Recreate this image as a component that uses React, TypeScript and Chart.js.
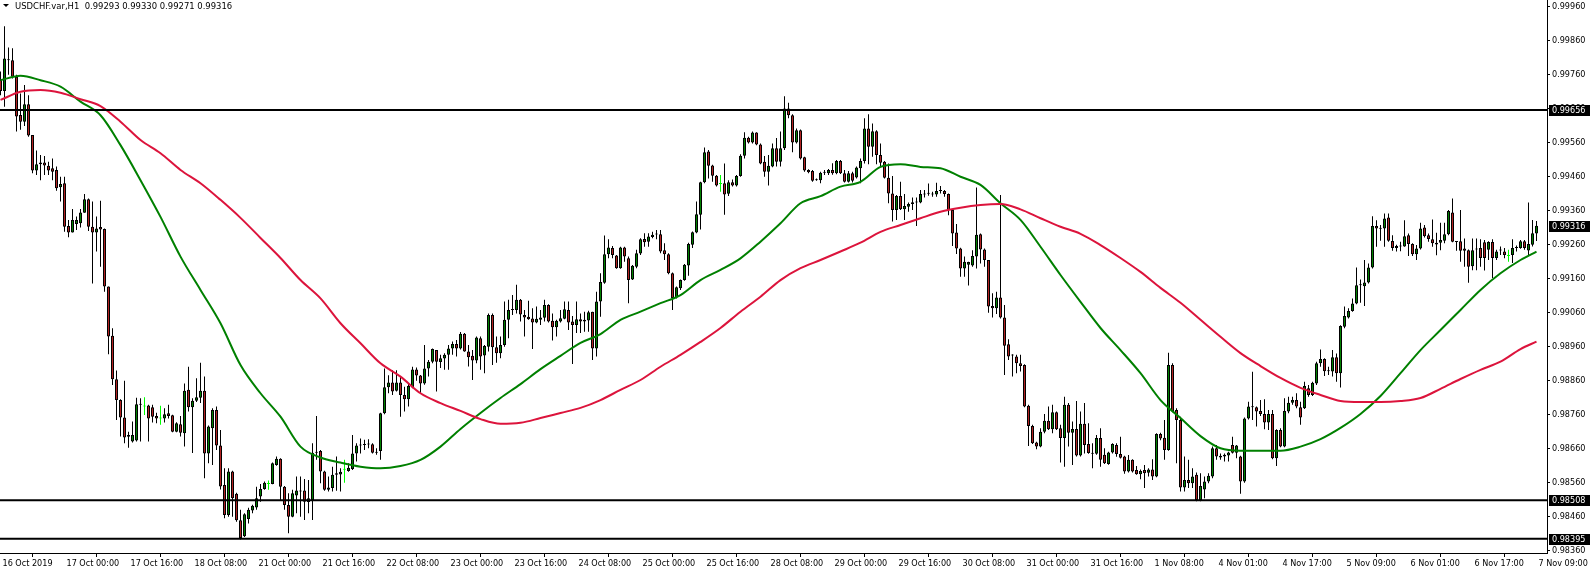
import React, { useEffect, useRef } from 'react';
import { Chart, registerables } from 'chart.js';

Chart.register(...registerables);

// ---------------- data ----------------
const SYMBOL = 'USDCHF.var,H1';
const PRICE_SCALE = 100000; // prices are stored in points (0.00001)
const BARS_PER_LABEL = 16;

const timeLabels = [
  '16 Oct 2019', '17 Oct 00:00', '17 Oct 16:00', '18 Oct 08:00', '21 Oct 00:00',
  '21 Oct 16:00', '22 Oct 08:00', '23 Oct 00:00', '23 Oct 16:00', '24 Oct 08:00',
  '25 Oct 00:00', '25 Oct 16:00', '28 Oct 08:00', '29 Oct 00:00', '29 Oct 16:00',
  '30 Oct 08:00', '31 Oct 00:00', '31 Oct 16:00', '1 Nov 08:00', '4 Nov 01:00',
  '4 Nov 17:00', '5 Nov 09:00', '6 Nov 01:00', '6 Nov 17:00', '7 Nov 09:00',
];

const priceTicks = [
  98360, 98460, 98560, 98660, 98760, 98860, 98960, 99060, 99160,
  99260, 99360, 99460, 99560, 99660, 99760, 99860, 99960,
];

const levelPrices = [99656, 98508, 98395];

const openPrices = [
  99745, 99712, 99806, 99803, 99754, 99642, 99622, 99673, 99583, 99478,
  99497, 99502, 99492, 99485, 99480, 99429, 99441, 99315, 99296, 99321,
  99323, 99354, 99394, 99313, 99296, 99312, 99306, 99137, 98992, 98864,
  98803, 98752, 98700, 98681, 98684, 98791, 98784, 98787, 98782, 98756,
  98749, 98749, 98764, 98758, 98710, 98732, 98705, 98833, 98782, 98801,
  98810, 98830, 98646, 98720, 98774, 98669, 98553, 98465, 98593, 98527,
  98449, 98402, 98453, 98478, 98487, 98519, 98541, 98556, 98556, 98612,
  98630, 98548, 98494, 98460, 98522, 98537, 98537, 98503, 98509, 98648,
  98653, 98593, 98539, 98544, 98583, 98584, 98598, 98594, 98600, 98646,
  98669, 98671, 98674, 98673, 98648, 98653, 98764, 98841, 98855, 98830,
  98855, 98818, 98805, 98840, 98893, 98875, 98852, 98896, 98916, 98950,
  98915, 98925, 98936, 98955, 98968, 98955, 98998, 98946, 98933, 98919,
  98985, 98934, 98960, 99053, 98958, 98941, 98965, 99039, 99068, 99068,
  99098, 99053, 99048, 99043, 99031, 99039, 99045, 99083, 99036, 99017,
  99034, 99042, 99068, 99034, 99024, 99041, 99034, 99037, 99063, 98955,
  99093, 99148, 99232, 99250, 99228, 99191, 99252, 99220, 99158, 99195,
  99234, 99277, 99269, 99283, 99290, 99291, 99244, 99232, 99176, 99105,
  99132, 99156, 99199, 99260, 99296, 99348, 99444, 99534, 99493, 99463,
  99439, 99441, 99410, 99444, 99434, 99462, 99522, 99575, 99561, 99590,
  99555, 99504, 99475, 99490, 99544, 99504, 99544, 99661, 99641, 99561,
  99597, 99517, 99480, 99477, 99450, 99450, 99472, 99470, 99480, 99470,
  99506, 99470, 99445, 99470, 99458, 99485, 99506, 99602, 99548, 99594,
  99524, 99504, 99457, 99411, 99362, 99403, 99364, 99372, 99380, 99385,
  99384, 99408, 99411, 99410, 99408, 99418, 99418, 99409, 99362, 99296,
  99249, 99190, 99201, 99199, 99225, 99291, 99246, 99215, 99080, 99073,
  99105, 99046, 98967, 98935, 98931, 98911, 98906, 98786, 98727, 98678,
  98666, 98710, 98742, 98717, 98767, 98720, 98691, 98789, 98707, 98718,
  98640, 98733, 98674, 98648, 98645, 98691, 98642, 98615, 98649, 98671,
  98644, 98637, 98593, 98627, 98597, 98585, 98597, 98589, 98599, 98578,
  98703, 98692, 98656, 98906, 98774, 98744, 98546, 98568, 98558, 98583,
  98509, 98540, 98563, 98578, 98661, 98639, 98637, 98640, 98671, 98648,
  98637, 98563, 98749, 98782, 98782, 98771, 98762, 98737, 98762, 98632,
  98715, 98666, 98769, 98795, 98803, 98782, 98779, 98838, 98818, 98852,
  98911, 98924, 98888, 98887, 98929, 98882, 99019, 99046, 99065, 99087,
  99141, 99138, 99149, 99193, 99315, 99308, 99308, 99340, 99271, 99250,
  99256, 99255, 99288, 99262, 99232, 99249, 99311, 99288, 99276, 99266,
  99266, 99272, 99291, 99355, 99269, 99270, 99249, 99244, 99197, 99246,
  99250, 99267, 99245, 99268, 99221, 99243, 99240, 99227, 99230, 99250,
  99250, 99270, 99243, 99260, 99293,
];

const highPrices = [
  99770, 99903, 99840, 99838, 99760, 99705, 99730, 99700, 99583, 99537,
  99524, 99521, 99504, 99514, 99490, 99460, 99460, 99333, 99365, 99343,
  99365, 99409, 99396, 99387, 99343, 99389, 99308, 99137, 99014, 98890,
  98805, 98860, 98710, 98740, 98810, 98808, 98811, 98789, 98789, 98766,
  98786, 98779, 98789, 98760, 98738, 98756, 98852, 98901, 98808, 98867,
  98913, 98872, 98728, 98779, 98784, 98715, 98602, 98602, 98595, 98530,
  98480, 98470, 98486, 98495, 98548, 98556, 98563, 98566, 98619, 98637,
  98632, 98550, 98529, 98539, 98578, 98578, 98571, 98568, 98676, 98756,
  98656, 98595, 98578, 98607, 98637, 98602, 98627, 98617, 98700, 98676,
  98690, 98686, 98688, 98676, 98661, 98766, 98896, 98876, 98891, 98891,
  98872, 98842, 98852, 98901, 98899, 98877, 98965, 98921, 98955, 98950,
  98936, 98941, 98965, 98975, 98980, 99003, 99000, 98965, 98950, 98990,
  98990, 98965, 99058, 99058, 98990, 98990, 99093, 99098, 99112, 99142,
  99100, 99068, 99095, 99073, 99078, 99068, 99098, 99085, 99058, 99039,
  99068, 99093, 99093, 99050, 99093, 99058, 99063, 99066, 99063, 99122,
  99176, 99287, 99276, 99256, 99230, 99254, 99254, 99225, 99200, 99245,
  99279, 99294, 99294, 99298, 99303, 99303, 99264, 99235, 99178, 99137,
  99158, 99203, 99266, 99299, 99387, 99445, 99546, 99539, 99495, 99465,
  99465, 99499, 99450, 99452, 99465, 99526, 99591, 99578, 99593, 99591,
  99558, 99521, 99524, 99558, 99574, 99593, 99697, 99678, 99644, 99602,
  99599, 99519, 99482, 99480, 99455, 99475, 99480, 99483, 99500, 99509,
  99509, 99480, 99477, 99475, 99490, 99514, 99632, 99644, 99617, 99597,
  99558, 99506, 99499, 99462, 99406, 99445, 99409, 99384, 99399, 99399,
  99421, 99421, 99440, 99416, 99442, 99433, 99421, 99411, 99362, 99321,
  99251, 99225, 99210, 99244, 99428, 99293, 99249, 99215, 99117, 99122,
  99406, 99083, 98982, 98938, 98936, 98936, 98908, 98789, 98730, 98680,
  98720, 98762, 98784, 98789, 98769, 98730, 98813, 98794, 98740, 98800,
  98769, 98794, 98735, 98676, 98700, 98720, 98661, 98651, 98676, 98676,
  98695, 98639, 98641, 98629, 98609, 98599, 98612, 98602, 98629, 98705,
  98707, 98744, 98942, 98911, 98779, 98754, 98637, 98627, 98602, 98590,
  98588, 98578, 98588, 98666, 98671, 98646, 98646, 98651, 98695, 98671,
  98639, 98752, 98798, 98886, 98784, 98803, 98805, 98774, 98774, 98717,
  98720, 98808, 98813, 98813, 98823, 98798, 98857, 98847, 98857, 98916,
  98952, 98926, 98901, 98950, 98940, 99023, 99078, 99073, 99102, 99193,
  99158, 99215, 99205, 99344, 99332, 99318, 99352, 99352, 99288, 99260,
  99269, 99332, 99293, 99264, 99259, 99325, 99318, 99293, 99334, 99295,
  99325, 99325, 99362, 99396, 99271, 99362, 99278, 99246, 99278, 99278,
  99276, 99274, 99270, 99276, 99245, 99255, 99250, 99245, 99276, 99258,
  99274, 99274, 99384, 99333, 99330,
];

const lowPrices = [
  99700, 99666, 99760, 99749, 99593, 99598, 99609, 99578, 99470, 99465,
  99450, 99465, 99465, 99450, 99419, 99387, 99298, 99282, 99296, 99303,
  99311, 99354, 99300, 99146, 99240, 99195, 99122, 98938, 98847, 98744,
  98696, 98676, 98663, 98678, 98681, 98681, 98759, 98681, 98737, 98735,
  98730, 98737, 98749, 98708, 98708, 98696, 98666, 98769, 98647, 98797,
  98794, 98573, 98617, 98612, 98656, 98540, 98455, 98460, 98460, 98445,
  98393, 98400, 98440, 98470, 98480, 98504, 98539, 98539, 98555, 98610,
  98509, 98480, 98411, 98458, 98470, 98460, 98450, 98470, 98450, 98627,
  98558, 98536, 98534, 98534, 98536, 98534, 98560, 98592, 98597, 98622,
  98646, 98656, 98661, 98646, 98642, 98627, 98761, 98823, 98818, 98828,
  98754, 98769, 98784, 98838, 98860, 98823, 98848, 98872, 98911, 98828,
  98897, 98892, 98892, 98936, 98931, 98952, 98945, 98902, 98862, 98911,
  98892, 98882, 98946, 98906, 98913, 98926, 98960, 98985, 99053, 99058,
  99034, 98990, 99039, 98953, 99029, 99024, 99034, 99031, 98978, 98990,
  99031, 99041, 99009, 98909, 99000, 99000, 99004, 99004, 98921, 98931,
  99048, 99145, 99220, 99220, 99189, 99189, 99210, 99088, 99156, 99191,
  99230, 99254, 99254, 99279, 99276, 99235, 99215, 99173, 99068, 99102,
  99127, 99154, 99169, 99250, 99294, 99305, 99441, 99455, 99445, 99431,
  99416, 99348, 99403, 99431, 99431, 99460, 99514, 99558, 99558, 99553,
  99497, 99460, 99434, 99488, 99490, 99490, 99539, 99632, 99532, 99558,
  99511, 99475, 99470, 99445, 99448, 99441, 99465, 99465, 99466, 99467,
  99468, 99443, 99443, 99443, 99455, 99441, 99499, 99497, 99519, 99497,
  99489, 99455, 99382, 99328, 99333, 99362, 99333, 99357, 99362, 99315,
  99382, 99399, 99404, 99401, 99401, 99411, 99401, 99347, 99256, 99233,
  99166, 99166, 99140, 99195, 99190, 99205, 99195, 99060, 99046, 99056,
  99043, 98877, 98921, 98872, 98882, 98887, 98782, 98668, 98674, 98658,
  98664, 98705, 98715, 98705, 98715, 98619, 98607, 98666, 98612, 98637,
  98637, 98646, 98645, 98602, 98642, 98607, 98615, 98613, 98646, 98636,
  98631, 98586, 98590, 98590, 98583, 98570, 98544, 98578, 98568, 98576,
  98685, 98627, 98654, 98767, 98617, 98534, 98534, 98544, 98544, 98505,
  98505, 98514, 98558, 98573, 98627, 98627, 98622, 98622, 98646, 98632,
  98527, 98560, 98746, 98744, 98725, 98756, 98717, 98715, 98629, 98609,
  98664, 98664, 98764, 98789, 98779, 98730, 98777, 98813, 98815, 98847,
  98901, 98874, 98877, 98872, 98857, 98840, 99014, 99043, 99063, 99085,
  99089, 99080, 99146, 99190, 99254, 99272, 99254, 99269, 99242, 99240,
  99241, 99254, 99227, 99227, 99215, 99246, 99281, 99269, 99254, 99229,
  99244, 99264, 99288, 99267, 99242, 99210, 99195, 99148, 99185, 99185,
  99195, 99184, 99215, 99162, 99215, 99230, 99220, 99210, 99206, 99240,
  99248, 99245, 99230, 99255, 99271,
];

const closePrices = [
  99712, 99808, 99803, 99754, 99637, 99622, 99673, 99581, 99478, 99497,
  99502, 99493, 99478, 99475, 99426, 99439, 99313, 99296, 99333, 99333,
  99355, 99394, 99313, 99296, 99308, 99305, 99137, 98990, 98864, 98803,
  98752, 98693, 98695, 98700, 98791, 98789, 98784, 98749, 98754, 98749,
  98749, 98761, 98756, 98710, 98735, 98707, 98830, 98782, 98801, 98811,
  98830, 98646, 98725, 98774, 98669, 98549, 98465, 98593, 98514, 98449,
  98397, 98467, 98480, 98492, 98514, 98541, 98560, 98556, 98617, 98630,
  98548, 98494, 98460, 98529, 98537, 98534, 98504, 98514, 98648, 98650,
  98593, 98539, 98546, 98583, 98588, 98592, 98598, 98604, 98646, 98669,
  98671, 98674, 98672, 98648, 98651, 98764, 98841, 98855, 98828, 98855,
  98818, 98805, 98844, 98893, 98875, 98852, 98896, 98916, 98953, 98916,
  98926, 98936, 98955, 98968, 98955, 98998, 98946, 98929, 98919, 98987,
  98931, 98962, 99053, 98958, 98941, 98965, 99039, 99068, 99069, 99098,
  99055, 99046, 99041, 99031, 99042, 99046, 99083, 99034, 99017, 99036,
  99044, 99070, 99031, 99024, 99041, 99034, 99039, 99061, 98955, 99093,
  99150, 99232, 99252, 99230, 99191, 99252, 99225, 99156, 99198, 99235,
  99276, 99267, 99284, 99289, 99291, 99240, 99232, 99176, 99103, 99135,
  99156, 99201, 99262, 99297, 99350, 99444, 99532, 99492, 99463, 99434,
  99439, 99408, 99444, 99434, 99462, 99522, 99575, 99561, 99590, 99555,
  99499, 99475, 99492, 99544, 99504, 99544, 99661, 99641, 99561, 99597,
  99514, 99478, 99473, 99448, 99452, 99472, 99473, 99480, 99470, 99506,
  99470, 99445, 99470, 99448, 99487, 99506, 99602, 99548, 99594, 99524,
  99501, 99457, 99411, 99362, 99403, 99364, 99374, 99380, 99385, 99384,
  99409, 99411, 99410, 99408, 99418, 99419, 99409, 99362, 99293, 99249,
  99190, 99210, 99209, 99227, 99289, 99246, 99215, 99078, 99073, 99105,
  99046, 98963, 98931, 98934, 98911, 98903, 98784, 98727, 98676, 98666,
  98710, 98742, 98717, 98767, 98717, 98691, 98789, 98707, 98718, 98640,
  98733, 98671, 98647, 98645, 98691, 98627, 98617, 98649, 98674, 98644,
  98633, 98593, 98627, 98593, 98585, 98594, 98588, 98599, 98578, 98703,
  98690, 98656, 98906, 98769, 98744, 98546, 98568, 98558, 98578, 98509,
  98550, 98563, 98580, 98661, 98637, 98634, 98642, 98649, 98648, 98669,
  98563, 98749, 98784, 98783, 98769, 98762, 98737, 98762, 98632, 98715,
  98666, 98771, 98795, 98803, 98784, 98752, 98844, 98818, 98854, 98911,
  98924, 98888, 98889, 98929, 98882, 99021, 99050, 99065, 99087, 99141,
  99142, 99149, 99193, 99315, 99308, 99307, 99337, 99272, 99250, 99256,
  99255, 99285, 99262, 99232, 99249, 99308, 99285, 99277, 99264, 99261,
  99274, 99291, 99359, 99269, 99268, 99242, 99242, 99195, 99244, 99247,
  99221, 99221, 99268, 99221, 99240, 99244, 99230, 99227, 99250, 99251,
  99270, 99250, 99262, 99294, 99316,
];

// moving averages, read every 5 bars (last value at the final bar)
const MA_SAMPLE_STEP = 5;
const fastMA = [
  99744, 99757, 99744, 99725, 99681, 99641, 99553, 99450, 99342, 99225,
  99127, 99029, 98906, 98823, 98754, 98666, 98634, 98619, 98607, 98602,
  98609, 98627, 98666, 98718, 98765, 98809, 98850, 98894, 98933, 98971,
  98997, 99039, 99063, 99088, 99112, 99156, 99186, 99220, 99269, 99323,
  99382, 99403, 99431, 99445, 99489, 99497, 99489, 99485, 99460, 99436,
  99382, 99333, 99254, 99171, 99092, 99015, 98950, 98882, 98803, 98750,
  98697, 98661, 98654, 98654, 98654, 98666, 98688, 98721, 98762, 98815,
  98882, 98950, 99009, 99068, 99127, 99176, 99215, 99240,
];
const slowMA = [
  99686, 99710, 99715, 99707, 99688, 99668, 99622, 99568, 99529, 99480,
  99441, 99392, 99339, 99280, 99221, 99156, 99102, 99029, 98970, 98911,
  98872, 98823, 98794, 98771, 98747, 98733, 98736, 98750, 98765, 98780,
  98803, 98833, 98862, 98901, 98936, 98974, 99015, 99063, 99107, 99156,
  99191, 99215, 99240, 99266, 99298, 99318, 99338, 99357, 99369, 99377,
  99380, 99364, 99338, 99313, 99292, 99259, 99221, 99180, 99133, 99089,
  99039, 98989, 98941, 98903, 98868, 98839, 98818, 98800, 98797, 98797,
  98800, 98809, 98836, 98865, 98892, 98916, 98953, 98975,
];

// ---------------- styles ----------------
const FONT_FAMILY = "'DejaVu Sans Condensed', 'DejaVu Sans', sans-serif";
const FONT_SIZE = 9;
const BULL_COLOR = '#008000';
const BEAR_COLOR = '#B22222';
const DOJI_COLOR = '#00FF00';
const FAST_MA_COLOR = '#008000';
const SLOW_MA_COLOR = '#DC143C';
const WIDTH = 1592;
const HEIGHT = 570;
const Y_AXIS_WIDTH = 45;
const X_AXIS_HEIGHT = 17;
const PX_PER_BAR = 4;
const LEFT_PAD_BARS = 0.125;
const Y_TOP = 99980;
const Y_BOTTOM = 98353;

const fmt = (v: number) => (v / PRICE_SCALE).toFixed(5);

const overlayPlugin = {
  id: 'mt4Overlay',
  afterDraw(chart: any) {
    const { ctx, chartArea } = chart;
    const y = chart.scales.y;
    ctx.save();
    ctx.font = `${FONT_SIZE}px ${FONT_FAMILY}`;
    ctx.textBaseline = 'middle';
    ctx.textAlign = 'left';
    const last = closePrices.length - 1;
    const marked = [...levelPrices, closePrices[last]];
    marked.forEach((v) => {
      const py = Math.round(y.getPixelForValue(v));
      ctx.fillStyle = '#000';
      ctx.fillRect(chartArea.right + 2, py - 5, 41, 11);
      ctx.fillStyle = '#fff';
      ctx.fillText(fmt(v), chartArea.right + 5, py + 0.5);
    });
    // header
    ctx.fillStyle = '#000';
    ctx.beginPath();
    ctx.moveTo(3, 4);
    ctx.lineTo(9, 4);
    ctx.lineTo(6, 7);
    ctx.closePath();
    ctx.fill();
    const header = `${SYMBOL}  ${fmt(openPrices[last])} ${fmt(highPrices[last])} ${fmt(lowPrices[last])} ${fmt(closePrices[last])}`;
    ctx.font = `9.4px ${FONT_FAMILY}`;
    ctx.fillText(header, 15, 6.5);
    ctx.restore();
  },
};

export default function App() {
  const canvasRef = useRef<HTMLCanvasElement>(null);

  useEffect(() => {
    const canvas = canvasRef.current;
    if (!canvas) return;
    const n = closePrices.length;
    const plotWidth = WIDTH - Y_AXIS_WIDTH;
    const xMin = -LEFT_PAD_BARS;
    const xMax = xMin + plotWidth / PX_PER_BAR;

    const isDoji = (i: number) => openPrices[i] === closePrices[i];
    const bodyColors = closePrices.map((c, i) =>
      isDoji(i) ? DOJI_COLOR : c > openPrices[i] ? BULL_COLOR : BEAR_COLOR
    );
    const edgeColors = closePrices.map((_, i) => (isDoji(i) ? DOJI_COLOR : '#000'));

    const wicks = closePrices.map((_, i) => ({ x: i, y: [lowPrices[i], highPrices[i]] }));
    const bodies = closePrices.map((c, i) => ({ x: i, y: [openPrices[i], c] }));
    const maX = (k: number) => Math.min(k * MA_SAMPLE_STEP, n - 1);
    const fast = fastMA.map((v, k) => ({ x: maX(k), y: v }));
    const slow = slowMA.map((v, k) => ({ x: maX(k), y: v }));

    const font = { family: FONT_FAMILY, size: FONT_SIZE };

    const levelSets = levelPrices.map((v) => ({
      type: 'line' as const,
      data: [{ x: xMin, y: v }, { x: xMax, y: v }],
      borderColor: '#000',
      borderWidth: 2,
      pointRadius: 0,
      order: 0,
    }));

    const chart = new Chart(canvas, {
      type: 'bar',
      data: {
        datasets: [
          ...levelSets,
          {
            type: 'line',
            data: slow,
            borderColor: SLOW_MA_COLOR,
            borderWidth: 2,
            pointRadius: 0,
            cubicInterpolationMode: 'monotone',
            order: 1,
          },
          {
            type: 'line',
            data: fast,
            borderColor: FAST_MA_COLOR,
            borderWidth: 2,
            pointRadius: 0,
            cubicInterpolationMode: 'monotone',
            order: 2,
          },
          {
            type: 'bar',
            data: bodies,
            backgroundColor: bodyColors,
            borderColor: edgeColors,
            borderWidth: 1,
            borderSkipped: false,
            barThickness: 3,
            minBarLength: 1,
            grouped: false,
            inflateAmount: 0,
            order: 3,
          },
          {
            type: 'bar',
            data: wicks,
            backgroundColor: edgeColors,
            borderWidth: 0,
            barThickness: 1,
            grouped: false,
            inflateAmount: 0,
            order: 4,
          },
        ] as any,
      },
      options: {
        responsive: false,
        maintainAspectRatio: false,
        animation: false,
        events: [],
        layout: { padding: 0 },
        plugins: {
          legend: { display: false },
          tooltip: { enabled: false },
          title: { display: false },
        },
        scales: {
          x: {
            type: 'linear',
            min: xMin,
            max: xMax,
            offset: false,
            grid: {
              display: true,
              drawOnChartArea: false,
              drawTicks: true,
              tickLength: 4,
              color: '#000',
              tickColor: '#000',
            },
            border: { display: true, color: '#000', width: 1 },
            ticks: {
              font,
              color: '#000',
              autoSkip: false,
              maxRotation: 0,
              minRotation: 0,
              align: 'start',
              labelOffset: 2,
              padding: 1,
              callback: (v: any) => timeLabels[Math.round(Number(v) / BARS_PER_LABEL)] ?? '',
            },
            afterBuildTicks: (s: any) => {
              s.ticks = timeLabels.map((_, i) => ({ value: i * BARS_PER_LABEL }));
            },
            afterFit: (s: any) => {
              s.height = X_AXIS_HEIGHT;
              s.paddingLeft = 0;
              s.paddingRight = 0;
            },
          },
          y: {
            type: 'linear',
            position: 'right',
            min: Y_BOTTOM,
            max: Y_TOP,
            grid: {
              display: true,
              drawOnChartArea: false,
              drawTicks: true,
              tickLength: 3,
              color: '#000',
              tickColor: '#000',
            },
            border: { display: true, color: '#000', width: 1 },
            ticks: {
              font,
              color: '#000',
              autoSkip: false,
              padding: 2,
              callback: (v: any) => fmt(Number(v)),
            },
            afterBuildTicks: (s: any) => {
              s.ticks = priceTicks.map((v) => ({ value: v }));
            },
            afterFit: (s: any) => {
              s.width = Y_AXIS_WIDTH;
              s.paddingTop = 0;
              s.paddingBottom = 0;
            },
          },
        },
      } as any,
      plugins: [overlayPlugin],
    });

    return () => chart.destroy();
  }, []);

  return (
    <div style={{ position: 'absolute', left: 0, top: 0, width: WIDTH, height: HEIGHT, background: '#fff' }}>
      <canvas ref={canvasRef} width={WIDTH} height={HEIGHT} style={{ display: 'block' }} />
    </div>
  );
}
